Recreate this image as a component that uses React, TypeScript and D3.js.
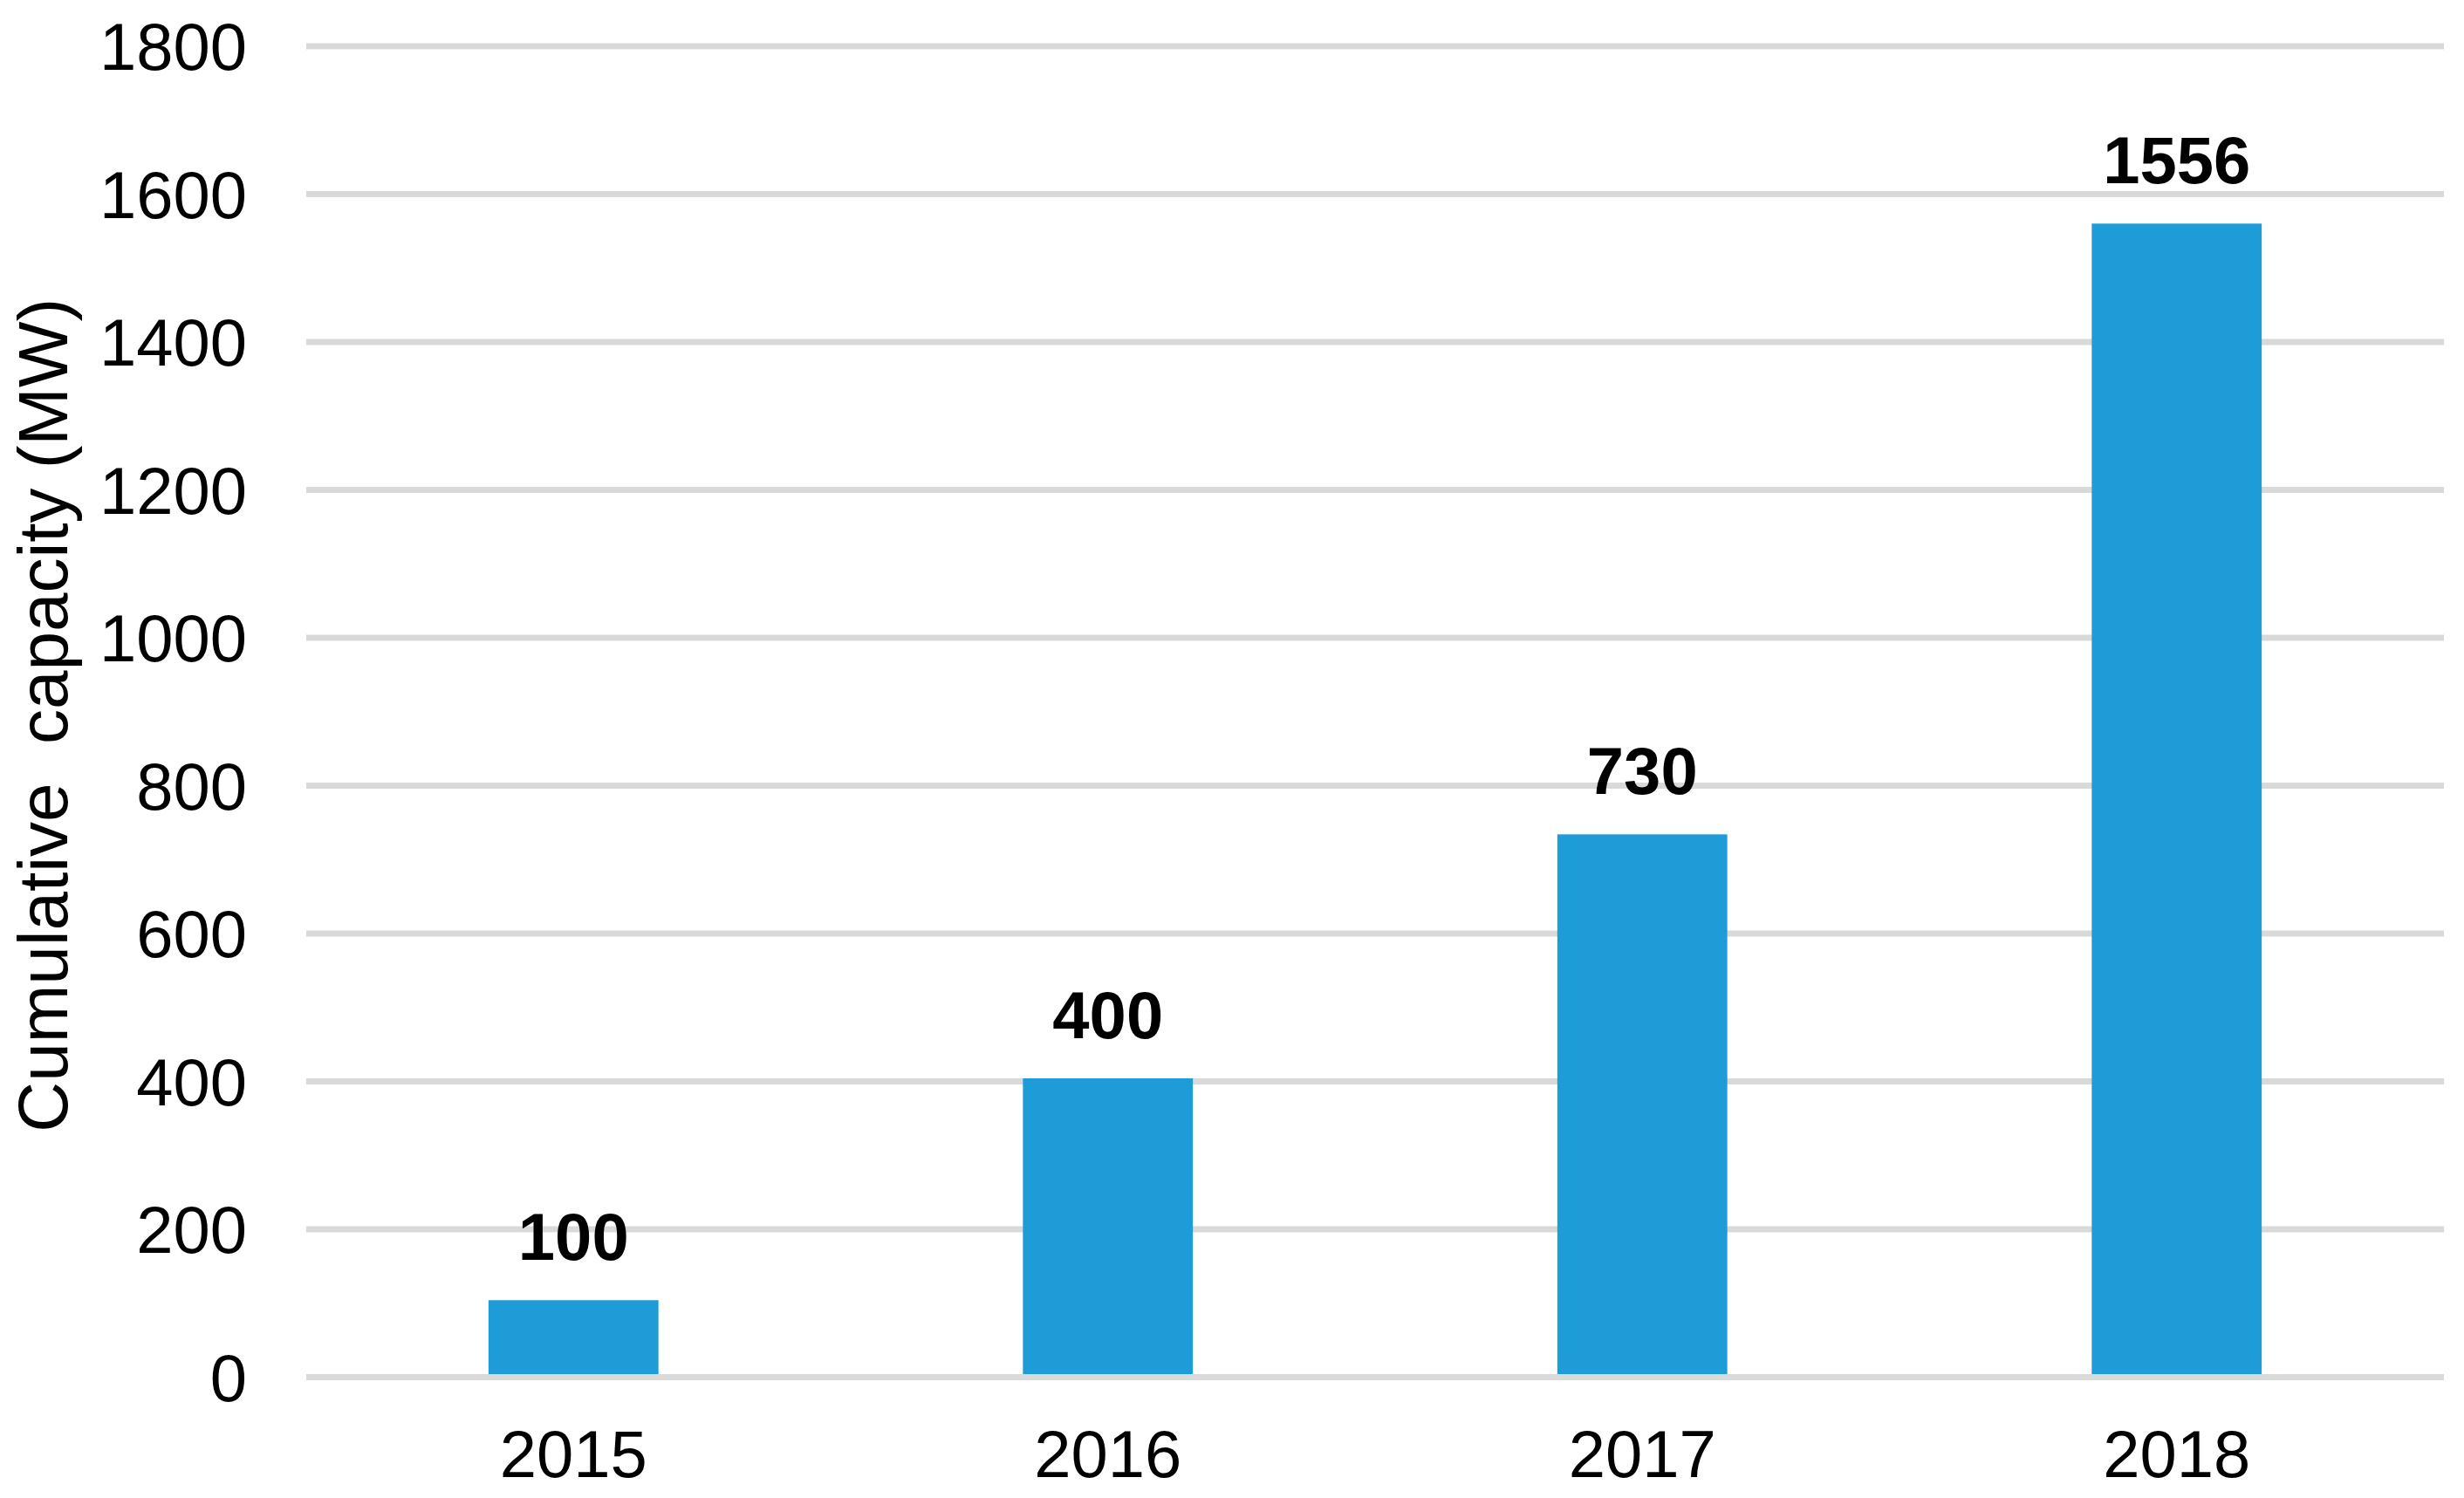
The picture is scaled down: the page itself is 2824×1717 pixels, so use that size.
import { useEffect, useRef } from 'react';
import * as d3 from 'd3';

const years = ['2015', '2016', '2017', '2018'];
const capacity = [100, 400, 730, 1556];
const yTicks = [0, 200, 400, 600, 800, 1000, 1200, 1400, 1600, 1800];

const width = 2824;
const height = 1717;
const margin = { top: 53, right: 23, bottom: 138.5, left: 351 };

export default function App() {
  const ref = useRef<SVGSVGElement>(null);

  useEffect(() => {
    const svg = d3.select(ref.current);
    svg.selectAll('*').remove();

    const innerWidth = width - margin.left - margin.right;
    const innerHeight = height - margin.top - margin.bottom;
    const font = '"Liberation Sans", Arial, sans-serif';
    const lift = 3.5; // bars start at the top edge of the zero line

    const g = svg.append('g').attr('transform', `translate(${margin.left}, ${margin.top})`);

    const xScale = d3.scaleBand().domain(years).range([0, innerWidth]).paddingInner(0.682).paddingOuter(0.341);
    const yScale = d3.scaleLinear().domain([0, 1800]).range([innerHeight, 0]);

    // gridlines
    g.selectAll('.grid')
      .data(yTicks)
      .join('line')
      .attr('class', 'grid')
      .attr('x1', 0)
      .attr('x2', innerWidth)
      .attr('y1', d => yScale(d))
      .attr('y2', d => yScale(d))
      .attr('stroke', '#d9d9d9')
      .attr('stroke-width', 7);

    g.selectAll('.bar')
      .data(capacity)
      .join('rect')
      .attr('class', 'bar')
      .attr('x', (d, i) => xScale(years[i])!)
      .attr('width', xScale.bandwidth())
      .attr('y', d => yScale(d) - lift)
      .attr('height', d => yScale(0) - yScale(d))
      .attr('fill', '#1e9cd7');

    // y tick labels
    g.selectAll('.ytick')
      .data(yTicks)
      .join('text')
      .attr('class', 'ytick')
      .attr('x', -68)
      .attr('y', d => yScale(d))
      .attr('dy', '0.36em')
      .attr('text-anchor', 'end')
      .style('font-family', font)
      .style('font-size', '76px')
      .attr('fill', '#000')
      .text(d => d);

    // x tick labels
    g.selectAll('.xtick')
      .data(years)
      .join('text')
      .attr('class', 'xtick')
      .attr('x', d => xScale(d)! + xScale.bandwidth() / 2)
      .attr('y', innerHeight + 114)
      .attr('text-anchor', 'middle')
      .style('font-family', font)
      .style('font-size', '76px')
      .attr('fill', '#000')
      .text(d => d);

    // value labels
    g.selectAll('.value')
      .data(capacity)
      .join('text')
      .attr('class', 'value')
      .attr('x', (d, i) => xScale(years[i])! + xScale.bandwidth() / 2)
      .attr('y', d => yScale(d) - lift - 46)
      .attr('text-anchor', 'middle')
      .style('font-family', font)
      .style('font-size', '76px')
      .style('font-weight', 'bold')
      .attr('fill', '#000')
      .text(d => d);

    // axis title
    svg.append('text')
      .attr('transform', `translate(77, ${margin.top + innerHeight / 2 + 4}) rotate(-90)`)
      .attr('text-anchor', 'middle')
      .style('font-family', font)
      .style('font-size', '80px')
      .style('white-space', 'pre')
      .attr('fill', '#000')
      .text('Cumulative  capacity (MW)');
  }, []);

  return (
    <svg
      ref={ref}
      width={width}
      height={height}
      style={{ position: 'absolute', left: 0, top: 0, background: '#fff' }}
    />
  );
}
